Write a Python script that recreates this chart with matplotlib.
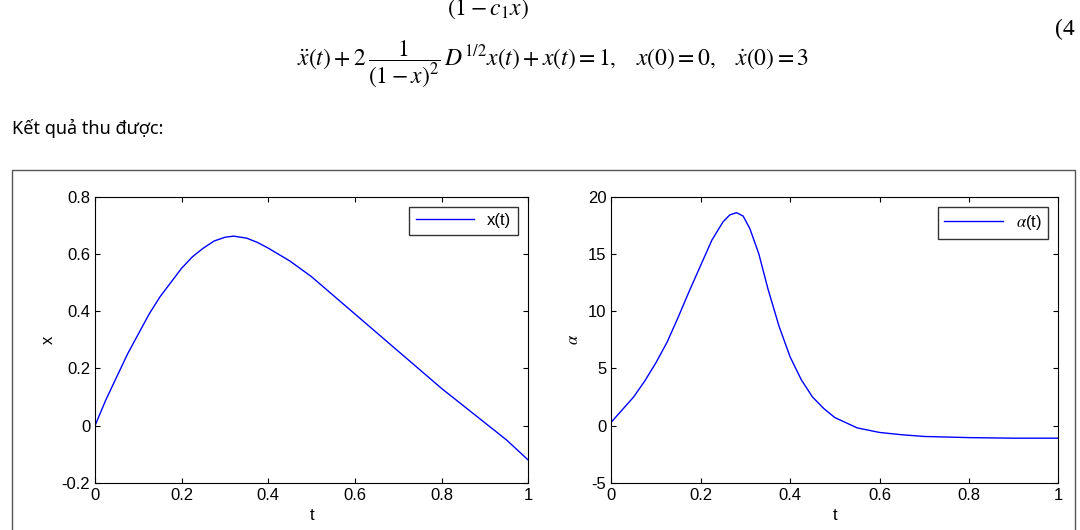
import numpy as np
import matplotlib.pyplot as plt
from matplotlib.patches import Rectangle

# curve values
t_x = [0, 0.025, 0.05, 0.075, 0.1, 0.125, 0.15, 0.175, 0.2, 0.225, 0.25, 0.275, 0.3, 0.32, 0.35,
       0.375, 0.4, 0.45, 0.5, 0.55, 0.6, 0.65, 0.7, 0.75, 0.8, 0.85, 0.9, 0.95, 1.0]
x_vals = [0, 0.09, 0.17, 0.25, 0.32, 0.39, 0.45, 0.50, 0.55, 0.59, 0.62, 0.645, 0.658, 0.662, 0.655,
          0.64, 0.62, 0.575, 0.52, 0.455, 0.39, 0.325, 0.26, 0.195, 0.13, 0.07, 0.01, -0.05, -0.12]
t_a = [0, 0.025, 0.05, 0.075, 0.1, 0.125, 0.15, 0.175, 0.2, 0.225, 0.25, 0.265, 0.28, 0.295, 0.31,
       0.33, 0.35, 0.375, 0.4, 0.425, 0.45, 0.475, 0.5, 0.55, 0.6, 0.65, 0.7, 0.8, 0.9, 1.0]
a_vals = [0.3, 1.4, 2.5, 3.9, 5.5, 7.3, 9.5, 11.8, 14.0, 16.2, 17.8, 18.4, 18.6, 18.3, 17.2,
          15.0, 12.0, 8.7, 6.0, 4.0, 2.5, 1.5, 0.7, -0.2, -0.6, -0.8, -0.95, -1.05, -1.1, -1.1]

plt.rcParams['mathtext.fontset'] = 'stix'
fig = plt.figure(figsize=(10.8, 5.3), dpi=100)

fig.text(0.452, 0.983, r'$(1-c_1x)$', fontsize=17, ha='center', va='center')
fig.text(0.995, 0.945, '(4', fontsize=17, ha='right', va='center', family='Liberation Serif')
fig.text(0.512, 0.88, r'$\ddot{x}(t)+2\,\dfrac{1}{(1-x)^2}\,D^{1/2}x(t)+x(t)=1,\quad x(0)=0,\quad \dot{x}(0)=3$',
         fontsize=17, ha='center', va='center')
fig.text(0.011, 0.758, 'Kết quả thu được:', fontsize=13, ha='left', va='center', family='Noto Sans')

fig.patches.append(Rectangle((0.011, -0.01), 0.984, 0.69, transform=fig.transFigure,
                             fill=False, edgecolor='#555555', lw=1))

ax1 = fig.add_axes([0.088, 0.089, 0.401, 0.54])
ax2 = fig.add_axes([0.566, 0.089, 0.414, 0.54])

ax1.plot(t_x, x_vals, color='#0000ff', lw=1, label='x(t)')
ax1.set_xlim(0, 1)
ax1.set_ylim(-0.2, 0.8)
ax1.set_yticks([-0.2, 0, 0.2, 0.4, 0.6, 0.8])
ax1.set_yticklabels(['-0.2', '0', '0.2', '0.4', '0.6', '0.8'])
ax1.set_ylabel('x', fontsize=12, family='Liberation Sans')

ax2.plot(t_a, a_vals, color='#0000ff', lw=1, label=r'$\alpha$(t)')
ax2.set_xlim(0, 1)
ax2.set_ylim(-5, 20)
ax2.set_yticks([-5, 0, 5, 10, 15, 20])
ax2.set_yticklabels(['-5', '0', '5', '10', '15', '20'])
ax2.set_ylabel(r'$\alpha$', fontsize=12)

for ax in (ax1, ax2):
    ax.set_xticks([0, 0.2, 0.4, 0.6, 0.8, 1])
    ax.set_xticklabels(['0', '0.2', '0.4', '0.6', '0.8', '1'])
    ax.set_xlabel('t', fontsize=12, family='Liberation Sans')
    ax.tick_params(direction='in', top=True, right=True, labelsize=12)
    for lab in ax.get_xticklabels() + ax.get_yticklabels():
        lab.set_family('Liberation Sans')
    leg = ax.legend(loc='upper right', fancybox=False, edgecolor='black', fontsize=12,
                    handlelength=3.5, borderaxespad=0.6, prop={'family': 'Liberation Sans', 'size': 12})

fig.savefig('out.png')
